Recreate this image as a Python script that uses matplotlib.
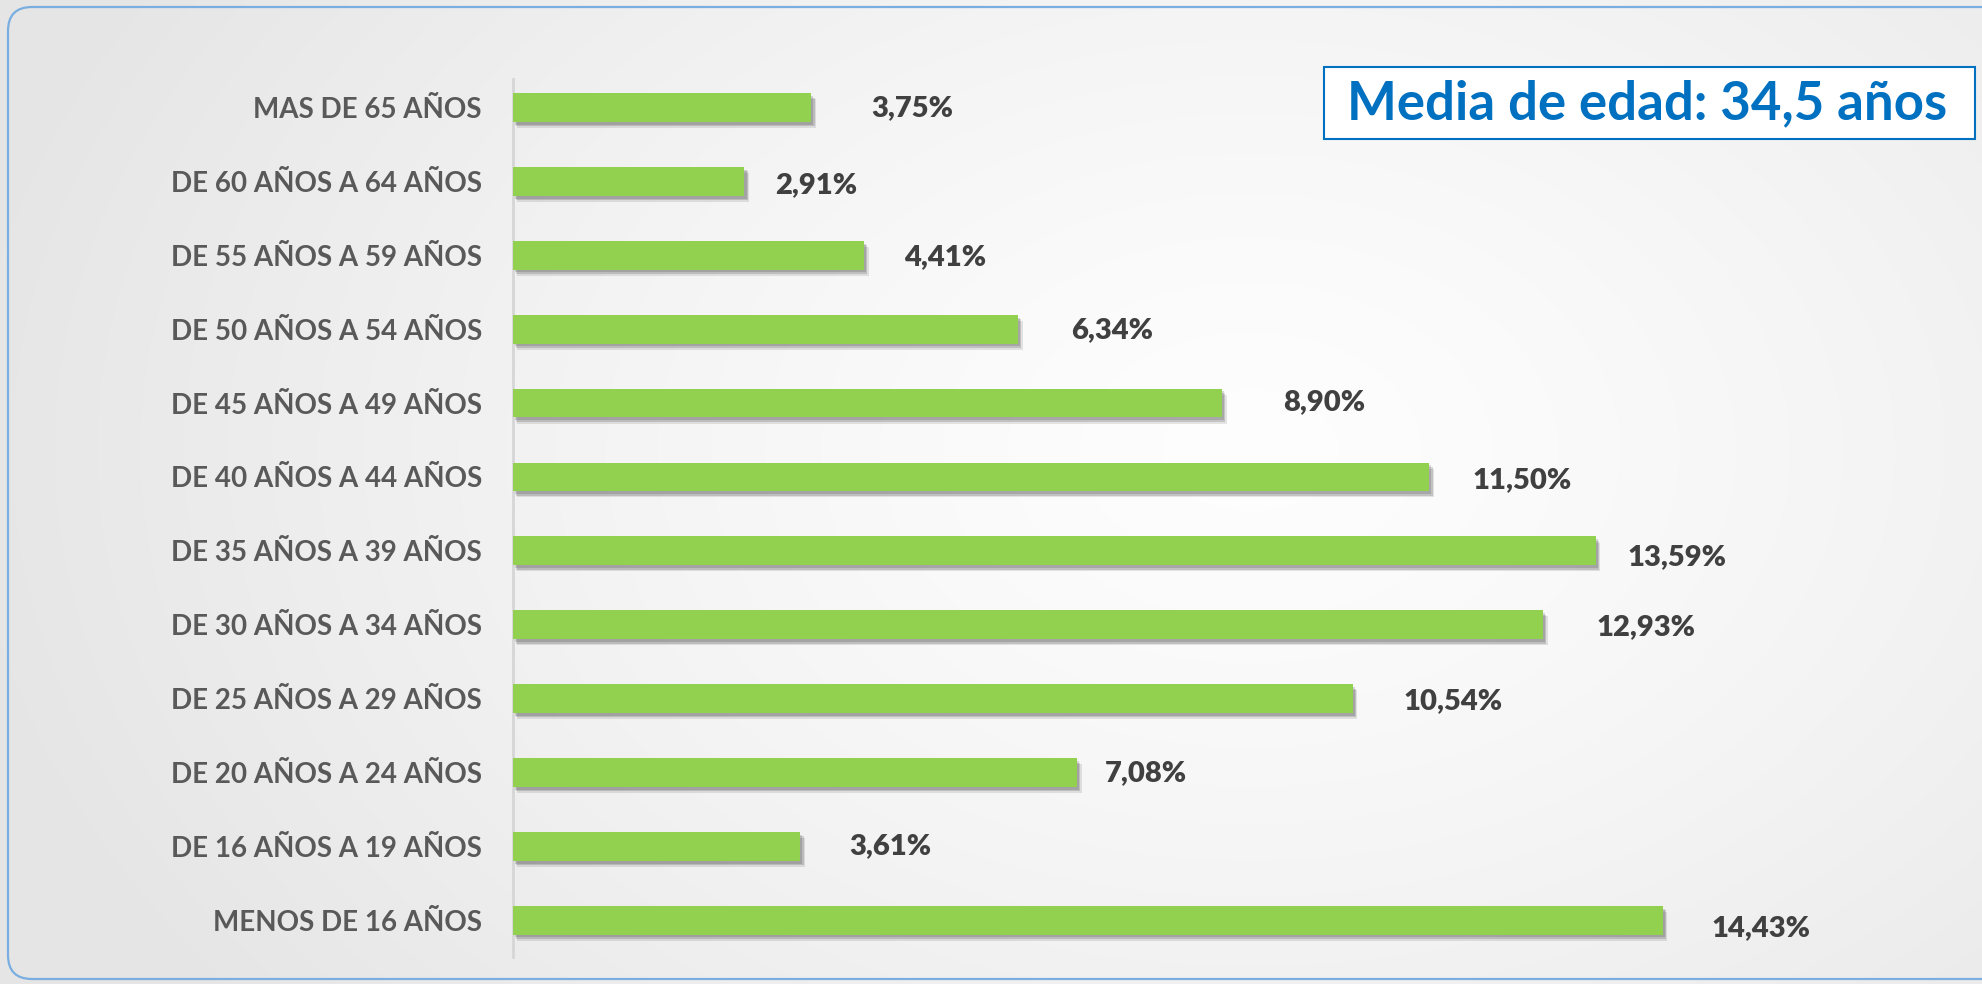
import numpy as np
import matplotlib
matplotlib.use("Agg")
import matplotlib.pyplot as plt
from matplotlib.patches import FancyBboxPatch, Rectangle
import matplotlib.patheffects as pe

# ---------------- data ----------------
categories = [
    "MENOS DE 16 AÑOS",
    "DE 16 AÑOS A 19 AÑOS",
    "DE 20 AÑOS A 24 AÑOS",
    "DE 25 AÑOS A 29 AÑOS",
    "DE 30 AÑOS A 34 AÑOS",
    "DE 35 AÑOS A 39 AÑOS",
    "DE 40 AÑOS A 44 AÑOS",
    "DE 45 AÑOS A 49 AÑOS",
    "DE 50 AÑOS A 54 AÑOS",
    "DE 55 AÑOS A 59 AÑOS",
    "DE 60 AÑOS A 64 AÑOS",
    "MAS DE 65 AÑOS",
]
values = [14.43, 3.61, 7.08, 10.54, 12.93, 13.59, 11.50, 8.90, 6.34, 4.41, 2.91, 3.75]
title_text = "Media de edad: 34,5 años"

# ---------------- layout (label offsets in px, as in the original) ----------------
label_gap_px = [48.7, 49, 27.7, 51, 53.7, 32, 43.5, 61, 53, 40, 31, 60]
label_dy_px = [7.4, 0.2, 0.2, 2, 2, 6.7, 3, -0.7, 0.5, 2, 4, 0.5]

W, H = 1982, 984
fig = plt.figure(figsize=(W / 100, H / 100), dpi=100)

# background with soft radial gradient
bg = fig.add_axes([0, 0, 1, 1], zorder=-10)
yy, xx = np.mgrid[0:H, 0:W]
d = np.sqrt(((xx - 1250) / 1300.0) ** 2 + ((yy - 450) / 900.0) ** 2)
d = np.clip(d, 0, 1)
light = 0.995 - 0.095 * d ** 1.3
img = np.dstack([light, light, light])
bg.imshow(img, extent=(0, W, H, 0), aspect="auto", interpolation="bilinear")
bg.set_xlim(0, W)
bg.set_ylim(H, 0)
bg.axis("off")

# rounded frame
frame = FancyBboxPatch((8, 7), 2040, 972, boxstyle="round,pad=0,rounding_size=24",
                       facecolor="none", edgecolor="#7aaee0", linewidth=1.6)
bg.add_patch(frame)

# title box
bg.add_patch(Rectangle((1324, 67), 651, 72, facecolor="white",
                       edgecolor="#0070C0", linewidth=1.5))
bg.text(1647.5, 119, title_text, ha="center", va="baseline", color="#0070C0",
        fontsize=38, fontweight="bold", family=["Lato", "DejaVu Sans"])

# ---------------- main bar chart ----------------
px_per_unit = 79.7
axes_left = 512.5
xmax = 18.0
top_px, bot_px = 79, 957
c_top, c_bot = 107.5, 920.3
step = (c_bot - c_top) / (len(values) - 1)
ymax = (len(values) - 1) + (c_top - top_px) / step
ymin = -(bot_px - c_bot) / step

ax = fig.add_axes([axes_left / W, 1 - bot_px / H,
                   xmax * px_per_unit / W, (bot_px - top_px) / H])
ax.patch.set_alpha(0)
y = np.arange(len(values))
bars = ax.barh(y, values, height=0.39, color="#92D050", edgecolor="none", zorder=3)
shadow = [
    pe.SimplePatchShadow(offset=(1.5, -2.0), shadow_rgbFace="#303030", alpha=0.18),
    pe.SimplePatchShadow(offset=(2.5, -3.2), shadow_rgbFace="#303030", alpha=0.18),
    pe.SimplePatchShadow(offset=(3.5, -4.4), shadow_rgbFace="#303030", alpha=0.12),
    pe.Normal(),
]
for b in bars:
    b.set_path_effects(shadow)
ax.set_xlim(0, xmax)
ax.set_ylim(ymin, ymax)

ax.set_yticks(y)
ax.set_yticklabels(categories, fontsize=20, fontweight="bold", color="#595959",
                   family=["Lato", "DejaVu Sans"])
ax.tick_params(axis="y", length=0, pad=22)
ax.set_xticks([])
for s in ["top", "right", "bottom"]:
    ax.spines[s].set_visible(False)
ax.spines["left"].set_color("#d6d6d6")
ax.spines["left"].set_linewidth(2.0)
ax.spines["left"].set_zorder(2)

for i, v in enumerate(values):
    lab = f"{v:.2f}%".replace(".", ",")
    ax.annotate(lab, xy=(v, i), xytext=(label_gap_px[i] * 0.72, -label_dy_px[i] * 0.72),
                textcoords="offset points", ha="left", va="center",
                fontsize=21, fontweight="heavy", color="#404040",
                family=["Lato", "DejaVu Sans"])

fig.savefig("out.png", dpi=100)
